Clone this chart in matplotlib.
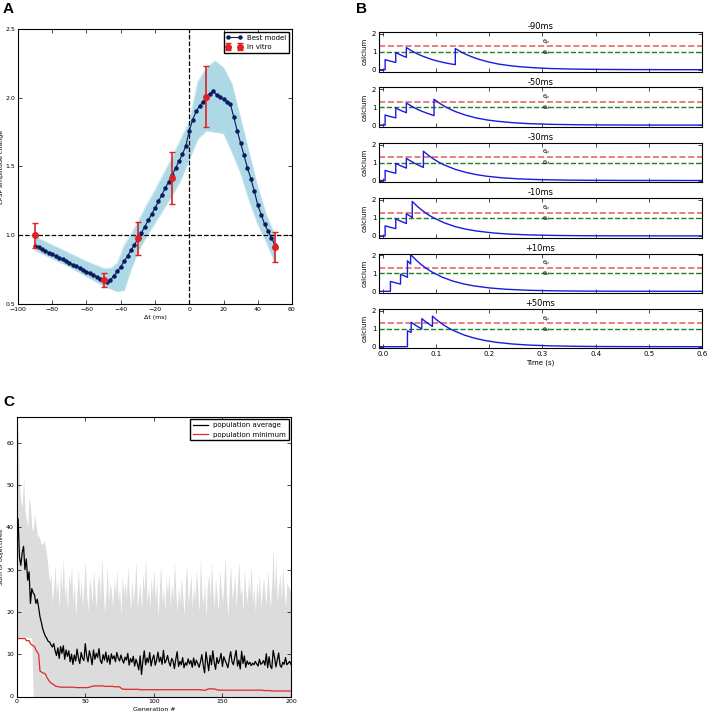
import numpy as np
import matplotlib
matplotlib.use('Agg')
from matplotlib import pyplot as plt

# ---------------- panel A : STDP curve ----------------
dt_model = np.arange(-90, 51, 2)
best_model = [0.925, 0.912, 0.900, 0.887, 0.874, 0.862, 0.849, 0.836, 0.824, 0.811,
              0.799, 0.786, 0.774, 0.761, 0.748, 0.736, 0.723, 0.710, 0.698, 0.685,
              0.673, 0.660, 0.675, 0.705, 0.738, 0.772, 0.810, 0.850, 0.892, 0.932,
              0.972, 1.017, 1.062, 1.108, 1.153, 1.198, 1.246, 1.294, 1.342, 1.390,
              1.438, 1.488, 1.538, 1.588, 1.650, 1.760, 1.840, 1.900, 1.940, 1.970,
              2.000, 2.030, 2.050, 2.020, 2.005, 1.990, 1.970, 1.955, 1.860, 1.760,
              1.670, 1.580, 1.490, 1.410, 1.320, 1.220, 1.150, 1.080, 1.030, 0.980,
              0.930]

band_x = [-90, -80, -70, -60, -50, -46, -42, -38, -34, -30, -25, -20, -15, -10, -5,
          0, 5, 10, 15, 20, 25, 30, 35, 40, 45, 50]
band_hi = [0.99, 0.93, 0.87, 0.81, 0.76, 0.76, 0.80, 0.93, 1.01, 1.10, 1.22, 1.33, 1.45,
           1.57, 1.70, 1.83, 2.12, 2.22, 2.27, 2.22, 2.10, 1.85, 1.60, 1.35, 1.15, 1.00]
band_lo = [0.89, 0.83, 0.77, 0.70, 0.63, 0.61, 0.59, 0.60, 0.75, 0.88, 0.99, 1.09, 1.19,
           1.29, 1.40, 1.55, 1.70, 1.76, 1.75, 1.74, 1.60, 1.45, 1.25, 1.08, 0.95, 0.80]

dt_vitro = [-90, -50, -30, -10, 10, 50]
vitro_mean = [1.00, 0.675, 0.978, 1.416, 2.008, 0.917]
vitro_err = [0.09, 0.05, 0.12, 0.19, 0.22, 0.11]

# ---------------- panel B : calcium traces ----------------
protocols = ['-90ms', '-50ms', '-30ms', '-10ms', '+10ms', '+50ms']
theta_p = 1.3
theta_d = 1.0
pre3_t = [-0.008, 0.004, 0.004, 0.014, 0.024, 0.024, 0.034, 0.044, 0.044, 0.054, 0.064]
pre3_v = [0.0, 0.0, 0.56, 0.475, 0.405, 0.95, 0.81, 0.69, 1.23, 1.05, 0.89]

ca_t = [
    pre3_t + [0.074, 0.084, 0.094, 0.104, 0.114, 0.124, 0.136, 0.136, 0.146, 0.156, 0.166,
              0.176, 0.196, 0.216, 0.236, 0.256, 0.286, 0.316, 0.356, 0.406, 0.456, 0.52, 0.6],
    pre3_t + [0.074, 0.084, 0.096, 0.096, 0.106, 0.116, 0.126, 0.136, 0.156, 0.176, 0.196,
              0.216, 0.246, 0.276, 0.316, 0.366, 0.416, 0.476, 0.6],
    pre3_t + [0.076, 0.076, 0.086, 0.096, 0.106, 0.116, 0.136, 0.156, 0.176, 0.196, 0.226,
              0.256, 0.296, 0.346, 0.396, 0.456, 0.6],
    pre3_t[:10] + [0.055, 0.055, 0.065, 0.075, 0.085, 0.095, 0.115, 0.135, 0.155, 0.175,
                   0.205, 0.235, 0.275, 0.325, 0.375, 0.435, 0.6],
    [-0.008, 0.014, 0.014, 0.024, 0.033, 0.033, 0.040, 0.046, 0.046, 0.052, 0.052, 0.062,
     0.072, 0.082, 0.092, 0.112, 0.132, 0.152, 0.172, 0.202, 0.232, 0.272, 0.322, 0.372,
     0.432, 0.6],
    [-0.008, 0.046, 0.046, 0.053, 0.053, 0.063, 0.073, 0.073, 0.083, 0.093, 0.093, 0.103,
     0.113, 0.123, 0.133, 0.153, 0.173, 0.193, 0.213, 0.243, 0.273, 0.313, 0.363, 0.413,
     0.473, 0.6],
]
ca_v = [
    pre3_v + [0.76, 0.65, 0.55, 0.47, 0.40, 0.34, 0.28, 1.18, 1.0, 0.855, 0.73,
              0.62, 0.45, 0.32, 0.235, 0.17, 0.105, 0.065, 0.035, 0.016, 0.007, 0.002, 0.0],
    pre3_v + [0.76, 0.65, 0.53, 1.44, 1.225, 1.04, 0.89, 0.755, 0.55, 0.395, 0.285,
              0.21, 0.13, 0.08, 0.042, 0.019, 0.009, 0.003, 0.0],
    pre3_v + [0.73, 1.63, 1.39, 1.18, 1.0, 0.855, 0.62, 0.45, 0.325, 0.235, 0.145,
              0.09, 0.047, 0.021, 0.01, 0.004, 0.0],
    pre3_v[:10] + [1.03, 1.92, 1.635, 1.39, 1.18, 1.01, 0.73, 0.525, 0.38, 0.277,
                   0.17, 0.105, 0.055, 0.025, 0.011, 0.004, 0.0],
    [0.0, 0.0, 0.55, 0.47, 0.40, 0.95, 0.86, 0.78, 1.70, 1.52, 2.05, 1.745,
     1.485, 1.264, 1.076, 0.779, 0.564, 0.409, 0.296, 0.183, 0.113, 0.059, 0.026, 0.012,
     0.004, 0.0],
    [0.0, 0.0, 0.88, 0.80, 1.36, 1.16, 0.99, 1.56, 1.33, 1.13, 1.70, 1.447,
     1.231, 1.048, 0.892, 0.646, 0.468, 0.339, 0.245, 0.151, 0.093, 0.049, 0.022, 0.010,
     0.004, 0.0],
]

# ---------------- panel C : optimisation ----------------
generations = np.arange(0, 201)
pop_average = [42, 42, 33, 31, 34, 35.5, 30, 32.5, 27.5, 29.5,
               22, 25.5, 24.5, 24, 22, 23, 21, 18.8, 17.5, 16,
               15, 14.2, 13.7, 13, 12.9, 12.2, 11.7, 12.5, 10.8, 9.7,
               11.5, 9, 11.8, 10.2, 12, 8.8, 11, 9.5, 10.8, 8.2,
               10, 7.6, 9.8, 8.4, 11.2, 9.1, 7.8, 10.4, 9, 8.5,
               12.5, 9.6, 8.2, 10.8, 9.4, 7.5, 11, 8.8, 10.2, 9.2,
               11.3, 8.5, 7.8, 9.9, 8.6, 10.5, 8.1, 9.7, 7.6, 10.1,
               8.9, 9.6, 8.2, 10.4, 9.1, 8.4, 9.8, 8.7, 7.9, 9.3,
               8.6, 10.2, 7.4, 9, 8.1, 9.5, 7.2, 8.8, 7.7, 6.3,
               9.6, 5.2, 8.4, 10.8, 7.5, 9.1, 8, 10.4, 7.2, 8.9,
               9.8, 7.4, 8.6, 10.5, 8.2, 9.3, 7.6, 10.9, 7.9, 8.5,
               9.7, 8.1, 7.2, 9, 8.4, 6.6, 8.8, 10.6, 7.1, 8.3,
               7.5, 9.2, 6.8, 8, 7.4, 8.9, 7.7, 8.5, 6.9, 9.1,
               7.3, 8.6, 7.8, 6.9, 8.2, 9.9, 7.4, 5.6, 10.5, 8.3,
               6.1, 9.7, 7.5, 10.8, 8.1, 6.4, 9.2, 7.8, 8.7, 10.2,
               7.1, 9.4, 8.5, 7.7, 6.8, 8.9, 10.6, 8.2, 7.5, 9.3,
               10.9, 7.2, 8.6, 6.5, 10.7, 7.8, 9.6, 6.9, 8.4, 7.6,
               8.1, 7.3, 7.9, 7.5, 8.3, 7.7, 7.2, 8.8, 7.6, 7.9,
               8.5, 7.4, 10.1, 6.8, 9.4, 7.2, 6.6, 10.9, 9.3, 7,
               8.7, 10.3, 7.4, 6.9, 8.1, 7.6, 9.2, 7.5, 7.9, 8.3,
               7.6]
pop_minimum = [13.7, 13.7, 13.7, 13.7, 13.7, 13.7, 13.7, 13.2, 13.2, 13.2,
               12.5, 12.2, 12, 11.8, 11, 10.5, 10, 6, 5.8, 5.6,
               5.5, 5.3, 4.5, 4, 3.5, 3.2, 3, 2.8, 2.5, 2.4,
               2.3, 2.3, 2.2, 2.2, 2.2, 2.2, 2.2, 2.2, 2.2, 2.2,
               2.2, 2.2, 2.2, 2.1, 2.1, 2.1, 2.1, 2.1, 2.1, 2.1,
               2.1, 2.1, 2.1, 2.2, 2.3, 2.4, 2.5, 2.5, 2.5, 2.5,
               2.5, 2.5, 2.5, 2.5, 2.4, 2.4, 2.4, 2.4, 2.4, 2.4,
               2.4, 2.3, 2.3, 2.3, 2.3, 2.3, 2.0, 1.8, 1.7, 1.7,
               1.7, 1.7, 1.7, 1.7, 1.7, 1.7, 1.7, 1.7, 1.7, 1.7,
               1.6, 1.6, 1.6, 1.6, 1.6, 1.6, 1.6, 1.6, 1.6, 1.6,
               1.6, 1.6, 1.6, 1.6, 1.6, 1.6, 1.6, 1.6, 1.6, 1.6,
               1.6, 1.6, 1.6, 1.6, 1.6, 1.6, 1.6, 1.6, 1.6, 1.6,
               1.6, 1.6, 1.6, 1.6, 1.6, 1.6, 1.6, 1.6, 1.6, 1.6,
               1.6, 1.6, 1.6, 1.6, 1.6, 1.5, 1.5, 1.5, 1.5, 1.7,
               1.8, 1.8, 1.8, 1.8, 1.8, 1.7, 1.6, 1.5, 1.5, 1.5,
               1.5, 1.5, 1.5, 1.5, 1.5, 1.5, 1.5, 1.5, 1.5, 1.5,
               1.5, 1.5, 1.5, 1.5, 1.5, 1.5, 1.5, 1.5, 1.5, 1.5,
               1.5, 1.5, 1.5, 1.5, 1.5, 1.5, 1.5, 1.5, 1.5, 1.5,
               1.4, 1.4, 1.4, 1.4, 1.4, 1.4, 1.3, 1.3, 1.3, 1.3,
               1.3, 1.3, 1.3, 1.3, 1.3, 1.3, 1.3, 1.3, 1.3, 1.3,
               1.3]
pop_max = [66, 62, 50, 46, 45, 52, 44, 42, 40, 47,
           45, 40, 39, 43, 41, 38, 38, 37, 36, 36,
           37, 35, 33, 30, 27, 29, 22, 26, 31, 24,
           28, 21, 30, 25, 33, 23, 27, 20, 29, 26,
           31, 22, 27, 19, 25, 30, 23, 28, 21, 26,
           32, 24, 20, 28, 26, 22, 30, 25, 21, 27,
           29, 23, 33, 26, 20, 24, 31, 22, 27, 25,
           21, 28, 24, 30, 22, 26, 19, 29, 24, 27,
           23, 31, 25, 20, 28, 22, 26, 32, 21, 24,
           27, 20, 29, 25, 33, 22, 26, 21, 28, 24,
           30, 23, 27, 19, 25, 31, 22, 26, 20, 28,
           24, 29, 21, 27, 23, 32, 25, 20, 26, 22,
           28, 24, 19, 27, 31, 22, 25, 29, 21, 26,
           23, 30, 25, 20, 33, 24, 22, 27, 19, 26,
           29, 23, 32, 25, 21, 28, 24, 20, 30, 26,
           22, 27, 33, 24, 19, 26, 31, 23, 25, 29,
           21, 27, 32, 24, 26, 20, 30, 25, 22, 28,
           24, 31, 22, 26, 20, 27, 23, 29, 21, 25,
           28, 24, 22, 30, 25, 21, 27, 35, 24, 33,
           22, 26, 29, 23, 31, 25, 21, 27, 26, 25,
           26]
pop_low = [14] * 12 + [0] * 189

# ---------------- layout helpers ----------------
W, H = 709.0, 712.0


def rect(l, t, r, b):
    return [l / W, 1 - b / H, (r - l) / W, (b - t) / H]


def style_axes(ax, size=4.5):
    ax.tick_params(direction='in', top=True, right=True, length=3, width=0.5,
                   labelsize=size, pad=2)
    for s in ax.spines.values():
        s.set_linewidth(0.8)


fig = plt.figure(figsize=(W / 100, H / 100), dpi=100)

# ---- A ----
axA = fig.add_axes(rect(18, 29, 292, 304))
axA.fill_between(band_x, band_lo, band_hi, color='#add8e6', lw=0)
axA.plot(band_x, band_hi, color='#c0e4ee', lw=0.5)
axA.plot(band_x, band_lo, color='#c0e4ee', lw=0.5)
axA.axhline(1.0, color='k', ls='--', lw=0.9)
axA.axvline(0, color='k', ls='--', lw=0.9)
axA.plot(dt_model, best_model, '-o', color='#0b1a5e', ms=2.2, lw=0.8, label='Best model')
axA.errorbar(dt_vitro, vitro_mean, yerr=vitro_err, fmt='o', color='#dd2222', ms=4,
             capsize=2, elinewidth=1.2, capthick=1, label='In vitro')
axA.set_xlim(-100, 60)
axA.set_ylim(0.5, 2.5)
axA.set_xticks(np.arange(-100, 61, 20))
axA.set_yticks(np.arange(0.5, 2.51, 0.5))
axA.set_xlabel('Δt (ms)', fontsize=4.5, labelpad=2)
axA.set_ylabel('EPSP amplitude change', fontsize=4.5)
axA.yaxis.set_label_coords(-14.0 / 274, 0.5)
style_axes(axA)
axA.legend(loc='upper right', fontsize=5, numpoints=2, fancybox=False,
           edgecolor='k', framealpha=1, borderaxespad=0.4, handlelength=2.2)
fig.text(3 / W, 1 - 9 / H, 'A', fontsize=11, fontweight='bold',
         family='Liberation Sans', va='center')

# ---- B ----
for i in range(6):
    top = 32 + i * 55.4
    ax = fig.add_axes(rect(379, top, 702, top + 39.5))
    ax.axhline(theta_p, color='#e05050', ls='--', lw=1.2, alpha=0.85)
    ax.axhline(theta_d, color='#208020', ls='--', lw=1.0)
    ax.plot(ca_t[i], ca_v[i], color='#1a1adf', lw=1.0)
    ax.text(0.3, theta_p + 0.22, 'θ$_p$', fontsize=4.5, va='center', ha='left')
    ax.text(0.3, theta_d - 0.02, 'θ$_d$', fontsize=4.5, va='center', ha='left')
    ax.set_xlim(-0.0075, 0.6)
    ax.set_ylim(-0.1, 2.1)
    ax.set_yticks([0, 1, 2])
    ax.set_xticks(np.arange(0, 0.61, 0.1))
    ax.set_title(protocols[i], fontsize=6, pad=2)
    ax.set_ylabel('calcium', fontsize=5, labelpad=3)
    style_axes(ax, 5)
    if i < 5:
        ax.set_xticklabels([])
    else:
        ax.set_xlabel('Time (s)', fontsize=5, labelpad=1.5)
fig.text(356 / W, 1 - 9 / H, 'B', fontsize=11, fontweight='bold',
         family='Liberation Sans', va='center')

# ---- C ----
axC = fig.add_axes(rect(16.7, 417.3, 291, 696.5))
axC.fill_between(generations, pop_low, pop_max, color='#dcdcdc', lw=0)
axC.plot(generations, pop_average, color='k', lw=0.9, label='population average')
axC.plot(generations, pop_minimum, color='#e02828', lw=0.9, label='population minimum')
axC.set_xlim(0, 200)
axC.set_ylim(0, 66)
axC.set_xticks(np.arange(0, 201, 50))
axC.set_yticks(np.arange(0, 61, 10))
axC.set_xlabel('Generation #', fontsize=4.5, labelpad=2)
axC.set_ylabel('Sum of objectives', fontsize=4.5)
axC.yaxis.set_label_coords(-12.5 / 274.3, 0.5)
style_axes(axC)
axC.legend(loc='upper right', fontsize=5, fancybox=False, edgecolor='k',
           framealpha=1, borderaxespad=0.3, handlelength=2.2)
fig.text(3 / W, 1 - 402 / H, 'C', fontsize=11, fontweight='bold',
         family='Liberation Sans', va='center')

plt.savefig('out.png', dpi=100)
